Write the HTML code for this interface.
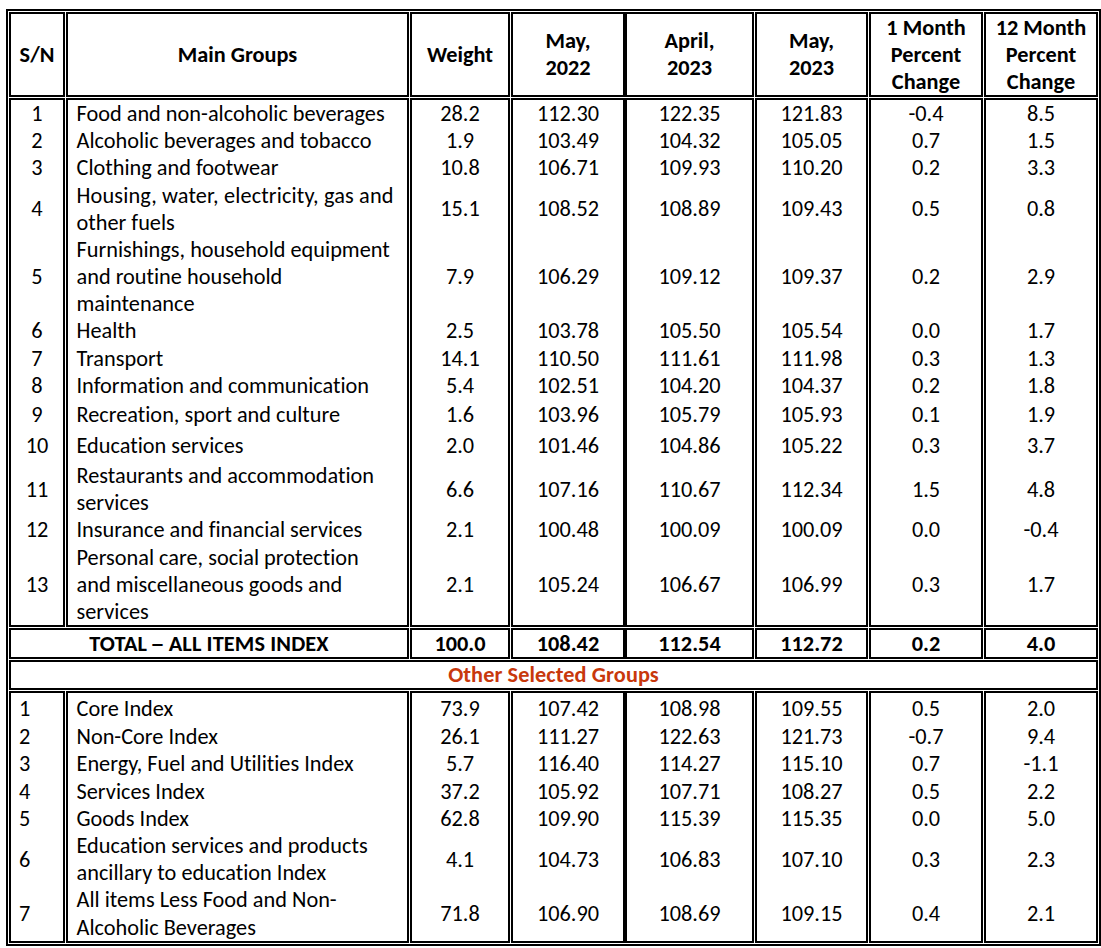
<!DOCTYPE html>
<html><head><meta charset="utf-8"><title>CPI Table</title><style>
html,body{margin:0;padding:0;background:#fff;}
body{font-variant-ligatures:none;font-feature-settings:"liga" 0,"clig" 0;width:1101px;height:948px;position:relative;overflow:hidden;font-family:"Carlito","Liberation Sans",sans-serif;font-size:22.30px;line-height:27px;color:#000;}
.l{position:absolute;background:#000;}
.t{position:absolute;white-space:nowrap;height:27px;}
.c{text-align:center;}
.b{font-weight:bold;}
.d{display:inline-block;transform:scaleX(1.3);}
</style></head><body>

<div class="l" style="left:6px;top:9px;width:1095px;height:2px"></div>
<div class="l" style="left:6px;top:944px;width:1095px;height:2px"></div>
<div class="l" style="left:6px;top:9px;width:2px;height:937px"></div>
<div class="l" style="left:1099px;top:9px;width:2px;height:937px"></div>
<div class="l" style="left:9px;top:12px;width:56px;height:2px"></div>
<div class="l" style="left:9px;top:95px;width:56px;height:2px"></div>
<div class="l" style="left:9px;top:12px;width:2px;height:85px"></div>
<div class="l" style="left:63px;top:12px;width:2px;height:85px"></div>
<div class="l" style="left:66px;top:12px;width:343px;height:2px"></div>
<div class="l" style="left:66px;top:95px;width:343px;height:2px"></div>
<div class="l" style="left:66px;top:12px;width:2px;height:85px"></div>
<div class="l" style="left:407px;top:12px;width:2px;height:85px"></div>
<div class="l" style="left:410px;top:12px;width:100px;height:2px"></div>
<div class="l" style="left:410px;top:95px;width:100px;height:2px"></div>
<div class="l" style="left:410px;top:12px;width:2px;height:85px"></div>
<div class="l" style="left:508px;top:12px;width:2px;height:85px"></div>
<div class="l" style="left:511px;top:12px;width:114px;height:2px"></div>
<div class="l" style="left:511px;top:95px;width:114px;height:2px"></div>
<div class="l" style="left:511px;top:12px;width:2px;height:85px"></div>
<div class="l" style="left:623px;top:12px;width:2px;height:85px"></div>
<div class="l" style="left:625px;top:12px;width:129px;height:2px"></div>
<div class="l" style="left:625px;top:95px;width:129px;height:2px"></div>
<div class="l" style="left:625px;top:12px;width:2px;height:85px"></div>
<div class="l" style="left:752px;top:12px;width:2px;height:85px"></div>
<div class="l" style="left:755px;top:12px;width:113px;height:2px"></div>
<div class="l" style="left:755px;top:95px;width:113px;height:2px"></div>
<div class="l" style="left:755px;top:12px;width:2px;height:85px"></div>
<div class="l" style="left:866px;top:12px;width:2px;height:85px"></div>
<div class="l" style="left:869px;top:12px;width:114px;height:2px"></div>
<div class="l" style="left:869px;top:95px;width:114px;height:2px"></div>
<div class="l" style="left:869px;top:12px;width:2px;height:85px"></div>
<div class="l" style="left:981px;top:12px;width:2px;height:85px"></div>
<div class="l" style="left:984px;top:12px;width:114px;height:2px"></div>
<div class="l" style="left:984px;top:95px;width:114px;height:2px"></div>
<div class="l" style="left:984px;top:12px;width:2px;height:85px"></div>
<div class="l" style="left:1096px;top:12px;width:2px;height:85px"></div>
<div class="l" style="left:9px;top:98px;width:56px;height:2px"></div>
<div class="l" style="left:9px;top:625px;width:56px;height:2px"></div>
<div class="l" style="left:9px;top:98px;width:2px;height:529px"></div>
<div class="l" style="left:63px;top:98px;width:2px;height:529px"></div>
<div class="l" style="left:66px;top:98px;width:343px;height:2px"></div>
<div class="l" style="left:66px;top:625px;width:343px;height:2px"></div>
<div class="l" style="left:66px;top:98px;width:2px;height:529px"></div>
<div class="l" style="left:407px;top:98px;width:2px;height:529px"></div>
<div class="l" style="left:410px;top:98px;width:100px;height:2px"></div>
<div class="l" style="left:410px;top:625px;width:100px;height:2px"></div>
<div class="l" style="left:410px;top:98px;width:2px;height:529px"></div>
<div class="l" style="left:508px;top:98px;width:2px;height:529px"></div>
<div class="l" style="left:511px;top:98px;width:114px;height:2px"></div>
<div class="l" style="left:511px;top:625px;width:114px;height:2px"></div>
<div class="l" style="left:511px;top:98px;width:2px;height:529px"></div>
<div class="l" style="left:623px;top:98px;width:2px;height:529px"></div>
<div class="l" style="left:625px;top:98px;width:129px;height:2px"></div>
<div class="l" style="left:625px;top:625px;width:129px;height:2px"></div>
<div class="l" style="left:625px;top:98px;width:2px;height:529px"></div>
<div class="l" style="left:752px;top:98px;width:2px;height:529px"></div>
<div class="l" style="left:755px;top:98px;width:113px;height:2px"></div>
<div class="l" style="left:755px;top:625px;width:113px;height:2px"></div>
<div class="l" style="left:755px;top:98px;width:2px;height:529px"></div>
<div class="l" style="left:866px;top:98px;width:2px;height:529px"></div>
<div class="l" style="left:869px;top:98px;width:114px;height:2px"></div>
<div class="l" style="left:869px;top:625px;width:114px;height:2px"></div>
<div class="l" style="left:869px;top:98px;width:2px;height:529px"></div>
<div class="l" style="left:981px;top:98px;width:2px;height:529px"></div>
<div class="l" style="left:984px;top:98px;width:114px;height:2px"></div>
<div class="l" style="left:984px;top:625px;width:114px;height:2px"></div>
<div class="l" style="left:984px;top:98px;width:2px;height:529px"></div>
<div class="l" style="left:1096px;top:98px;width:2px;height:529px"></div>
<div class="l" style="left:9px;top:628px;width:400px;height:2px"></div>
<div class="l" style="left:9px;top:657px;width:400px;height:2px"></div>
<div class="l" style="left:9px;top:628px;width:2px;height:31px"></div>
<div class="l" style="left:407px;top:628px;width:2px;height:31px"></div>
<div class="l" style="left:410px;top:628px;width:100px;height:2px"></div>
<div class="l" style="left:410px;top:657px;width:100px;height:2px"></div>
<div class="l" style="left:410px;top:628px;width:2px;height:31px"></div>
<div class="l" style="left:508px;top:628px;width:2px;height:31px"></div>
<div class="l" style="left:511px;top:628px;width:114px;height:2px"></div>
<div class="l" style="left:511px;top:657px;width:114px;height:2px"></div>
<div class="l" style="left:511px;top:628px;width:2px;height:31px"></div>
<div class="l" style="left:623px;top:628px;width:2px;height:31px"></div>
<div class="l" style="left:625px;top:628px;width:129px;height:2px"></div>
<div class="l" style="left:625px;top:657px;width:129px;height:2px"></div>
<div class="l" style="left:625px;top:628px;width:2px;height:31px"></div>
<div class="l" style="left:752px;top:628px;width:2px;height:31px"></div>
<div class="l" style="left:755px;top:628px;width:113px;height:2px"></div>
<div class="l" style="left:755px;top:657px;width:113px;height:2px"></div>
<div class="l" style="left:755px;top:628px;width:2px;height:31px"></div>
<div class="l" style="left:866px;top:628px;width:2px;height:31px"></div>
<div class="l" style="left:869px;top:628px;width:114px;height:2px"></div>
<div class="l" style="left:869px;top:657px;width:114px;height:2px"></div>
<div class="l" style="left:869px;top:628px;width:2px;height:31px"></div>
<div class="l" style="left:981px;top:628px;width:2px;height:31px"></div>
<div class="l" style="left:984px;top:628px;width:114px;height:2px"></div>
<div class="l" style="left:984px;top:657px;width:114px;height:2px"></div>
<div class="l" style="left:984px;top:628px;width:2px;height:31px"></div>
<div class="l" style="left:1096px;top:628px;width:2px;height:31px"></div>
<div class="l" style="left:9px;top:660px;width:1089px;height:2px"></div>
<div class="l" style="left:9px;top:688px;width:1089px;height:2px"></div>
<div class="l" style="left:9px;top:660px;width:2px;height:30px"></div>
<div class="l" style="left:1096px;top:660px;width:2px;height:30px"></div>
<div class="l" style="left:9px;top:691px;width:56px;height:2px"></div>
<div class="l" style="left:9px;top:941px;width:56px;height:2px"></div>
<div class="l" style="left:9px;top:691px;width:2px;height:252px"></div>
<div class="l" style="left:63px;top:691px;width:2px;height:252px"></div>
<div class="l" style="left:66px;top:691px;width:343px;height:2px"></div>
<div class="l" style="left:66px;top:941px;width:343px;height:2px"></div>
<div class="l" style="left:66px;top:691px;width:2px;height:252px"></div>
<div class="l" style="left:407px;top:691px;width:2px;height:252px"></div>
<div class="l" style="left:410px;top:691px;width:100px;height:2px"></div>
<div class="l" style="left:410px;top:941px;width:100px;height:2px"></div>
<div class="l" style="left:410px;top:691px;width:2px;height:252px"></div>
<div class="l" style="left:508px;top:691px;width:2px;height:252px"></div>
<div class="l" style="left:511px;top:691px;width:114px;height:2px"></div>
<div class="l" style="left:511px;top:941px;width:114px;height:2px"></div>
<div class="l" style="left:511px;top:691px;width:2px;height:252px"></div>
<div class="l" style="left:623px;top:691px;width:2px;height:252px"></div>
<div class="l" style="left:625px;top:691px;width:129px;height:2px"></div>
<div class="l" style="left:625px;top:941px;width:129px;height:2px"></div>
<div class="l" style="left:625px;top:691px;width:2px;height:252px"></div>
<div class="l" style="left:752px;top:691px;width:2px;height:252px"></div>
<div class="l" style="left:755px;top:691px;width:113px;height:2px"></div>
<div class="l" style="left:755px;top:941px;width:113px;height:2px"></div>
<div class="l" style="left:755px;top:691px;width:2px;height:252px"></div>
<div class="l" style="left:866px;top:691px;width:2px;height:252px"></div>
<div class="l" style="left:869px;top:691px;width:114px;height:2px"></div>
<div class="l" style="left:869px;top:941px;width:114px;height:2px"></div>
<div class="l" style="left:869px;top:691px;width:2px;height:252px"></div>
<div class="l" style="left:981px;top:691px;width:2px;height:252px"></div>
<div class="l" style="left:984px;top:691px;width:114px;height:2px"></div>
<div class="l" style="left:984px;top:941px;width:114px;height:2px"></div>
<div class="l" style="left:984px;top:691px;width:2px;height:252px"></div>
<div class="l" style="left:1096px;top:691px;width:2px;height:252px"></div>
<div class="t c b" style="left:11px;top:41px;width:52px"><span>S/N</span></div>
<div class="t c b" style="left:68px;top:41px;width:339px"><span>Main Groups</span></div>
<div class="t c b" style="left:412px;top:41px;width:96px"><span>Weight</span></div>
<div class="t c b" style="left:513px;top:27px;width:110px"><span>May,</span></div>
<div class="t c b" style="left:513px;top:54px;width:110px"><span>2022</span></div>
<div class="t c b" style="left:627px;top:27px;width:125px"><span>April,</span></div>
<div class="t c b" style="left:627px;top:54px;width:125px"><span>2023</span></div>
<div class="t c b" style="left:757px;top:27px;width:109px"><span>May,</span></div>
<div class="t c b" style="left:757px;top:54px;width:109px"><span>2023</span></div>
<div class="t c b" style="left:871px;top:14px;width:110px"><span>1 Month</span></div>
<div class="t c b" style="left:871px;top:41px;width:110px"><span>Percent</span></div>
<div class="t c b" style="left:871px;top:68px;width:110px"><span>Change</span></div>
<div class="t c b" style="left:986px;top:14px;width:110px"><span>12 Month</span></div>
<div class="t c b" style="left:986px;top:41px;width:110px"><span>Percent</span></div>
<div class="t c b" style="left:986px;top:68px;width:110px"><span>Change</span></div>
<div class="t c" style="left:11px;top:100px;width:52px"><span>1</span></div>
<div class="t" style="left:76.5px;top:100px;width:322.0px"><span>Food and non-alcoholic beverages</span></div>
<div class="t c" style="left:412px;top:100px;width:96px"><span>28.2</span></div>
<div class="t c" style="left:513px;top:100px;width:110px"><span>112.30</span></div>
<div class="t c" style="left:627px;top:100px;width:125px"><span>122.35</span></div>
<div class="t c" style="left:757px;top:100px;width:109px"><span>121.83</span></div>
<div class="t c" style="left:871px;top:100px;width:110px"><span>-0.4</span></div>
<div class="t c" style="left:986px;top:100px;width:110px"><span>8.5</span></div>
<div class="t c" style="left:11px;top:127px;width:52px"><span>2</span></div>
<div class="t" style="left:76.5px;top:127px;width:322.0px"><span>Alcoholic beverages and tobacco</span></div>
<div class="t c" style="left:412px;top:127px;width:96px"><span>1.9</span></div>
<div class="t c" style="left:513px;top:127px;width:110px"><span>103.49</span></div>
<div class="t c" style="left:627px;top:127px;width:125px"><span>104.32</span></div>
<div class="t c" style="left:757px;top:127px;width:109px"><span>105.05</span></div>
<div class="t c" style="left:871px;top:127px;width:110px"><span>0.7</span></div>
<div class="t c" style="left:986px;top:127px;width:110px"><span>1.5</span></div>
<div class="t c" style="left:11px;top:154px;width:52px"><span>3</span></div>
<div class="t" style="left:76.5px;top:154px;width:322.0px"><span>Clothing and footwear</span></div>
<div class="t c" style="left:412px;top:154px;width:96px"><span>10.8</span></div>
<div class="t c" style="left:513px;top:154px;width:110px"><span>106.71</span></div>
<div class="t c" style="left:627px;top:154px;width:125px"><span>109.93</span></div>
<div class="t c" style="left:757px;top:154px;width:109px"><span>110.20</span></div>
<div class="t c" style="left:871px;top:154px;width:110px"><span>0.2</span></div>
<div class="t c" style="left:986px;top:154px;width:110px"><span>3.3</span></div>
<div class="t c" style="left:11px;top:195px;width:52px"><span>4</span></div>
<div class="t" style="left:76.5px;top:182px;width:322.0px;letter-spacing:0.14px"><span>Housing, water, electricity, gas and</span></div>
<div class="t" style="left:76.5px;top:209px;width:322.0px"><span>other fuels</span></div>
<div class="t c" style="left:412px;top:195px;width:96px"><span>15.1</span></div>
<div class="t c" style="left:513px;top:195px;width:110px"><span>108.52</span></div>
<div class="t c" style="left:627px;top:195px;width:125px"><span>108.89</span></div>
<div class="t c" style="left:757px;top:195px;width:109px"><span>109.43</span></div>
<div class="t c" style="left:871px;top:195px;width:110px"><span>0.5</span></div>
<div class="t c" style="left:986px;top:195px;width:110px"><span>0.8</span></div>
<div class="t c" style="left:11px;top:263px;width:52px"><span>5</span></div>
<div class="t" style="left:76.5px;top:236px;width:322.0px"><span>Furnishings, household equipment</span></div>
<div class="t" style="left:76.5px;top:263px;width:322.0px"><span>and routine household</span></div>
<div class="t" style="left:76.5px;top:290px;width:322.0px"><span>maintenance</span></div>
<div class="t c" style="left:412px;top:263px;width:96px"><span>7.9</span></div>
<div class="t c" style="left:513px;top:263px;width:110px"><span>106.29</span></div>
<div class="t c" style="left:627px;top:263px;width:125px"><span>109.12</span></div>
<div class="t c" style="left:757px;top:263px;width:109px"><span>109.37</span></div>
<div class="t c" style="left:871px;top:263px;width:110px"><span>0.2</span></div>
<div class="t c" style="left:986px;top:263px;width:110px"><span>2.9</span></div>
<div class="t c" style="left:11px;top:317px;width:52px"><span>6</span></div>
<div class="t" style="left:76.5px;top:317px;width:322.0px"><span>Health</span></div>
<div class="t c" style="left:412px;top:317px;width:96px"><span>2.5</span></div>
<div class="t c" style="left:513px;top:317px;width:110px"><span>103.78</span></div>
<div class="t c" style="left:627px;top:317px;width:125px"><span>105.50</span></div>
<div class="t c" style="left:757px;top:317px;width:109px"><span>105.54</span></div>
<div class="t c" style="left:871px;top:317px;width:110px"><span>0.0</span></div>
<div class="t c" style="left:986px;top:317px;width:110px"><span>1.7</span></div>
<div class="t c" style="left:11px;top:345px;width:52px"><span>7</span></div>
<div class="t" style="left:76.5px;top:345px;width:322.0px"><span>Transport</span></div>
<div class="t c" style="left:412px;top:345px;width:96px"><span>14.1</span></div>
<div class="t c" style="left:513px;top:345px;width:110px"><span>110.50</span></div>
<div class="t c" style="left:627px;top:345px;width:125px"><span>111.61</span></div>
<div class="t c" style="left:757px;top:345px;width:109px"><span>111.98</span></div>
<div class="t c" style="left:871px;top:345px;width:110px"><span>0.3</span></div>
<div class="t c" style="left:986px;top:345px;width:110px"><span>1.3</span></div>
<div class="t c" style="left:11px;top:372px;width:52px"><span>8</span></div>
<div class="t" style="left:76.5px;top:372px;width:322.0px"><span>Information and communication</span></div>
<div class="t c" style="left:412px;top:372px;width:96px"><span>5.4</span></div>
<div class="t c" style="left:513px;top:372px;width:110px"><span>102.51</span></div>
<div class="t c" style="left:627px;top:372px;width:125px"><span>104.20</span></div>
<div class="t c" style="left:757px;top:372px;width:109px"><span>104.37</span></div>
<div class="t c" style="left:871px;top:372px;width:110px"><span>0.2</span></div>
<div class="t c" style="left:986px;top:372px;width:110px"><span>1.8</span></div>
<div class="t c" style="left:11px;top:401px;width:52px"><span>9</span></div>
<div class="t" style="left:76.5px;top:401px;width:322.0px"><span>Recreation, sport and culture</span></div>
<div class="t c" style="left:412px;top:401px;width:96px"><span>1.6</span></div>
<div class="t c" style="left:513px;top:401px;width:110px"><span>103.96</span></div>
<div class="t c" style="left:627px;top:401px;width:125px"><span>105.79</span></div>
<div class="t c" style="left:757px;top:401px;width:109px"><span>105.93</span></div>
<div class="t c" style="left:871px;top:401px;width:110px"><span>0.1</span></div>
<div class="t c" style="left:986px;top:401px;width:110px"><span>1.9</span></div>
<div class="t c" style="left:11px;top:432px;width:52px"><span>10</span></div>
<div class="t" style="left:76.5px;top:432px;width:322.0px"><span>Education services</span></div>
<div class="t c" style="left:412px;top:432px;width:96px"><span>2.0</span></div>
<div class="t c" style="left:513px;top:432px;width:110px"><span>101.46</span></div>
<div class="t c" style="left:627px;top:432px;width:125px"><span>104.86</span></div>
<div class="t c" style="left:757px;top:432px;width:109px"><span>105.22</span></div>
<div class="t c" style="left:871px;top:432px;width:110px"><span>0.3</span></div>
<div class="t c" style="left:986px;top:432px;width:110px"><span>3.7</span></div>
<div class="t c" style="left:11px;top:476px;width:52px"><span>11</span></div>
<div class="t" style="left:76.5px;top:462px;width:322.0px"><span>Restaurants and accommodation</span></div>
<div class="t" style="left:76.5px;top:489px;width:322.0px"><span>services</span></div>
<div class="t c" style="left:412px;top:476px;width:96px"><span>6.6</span></div>
<div class="t c" style="left:513px;top:476px;width:110px"><span>107.16</span></div>
<div class="t c" style="left:627px;top:476px;width:125px"><span>110.67</span></div>
<div class="t c" style="left:757px;top:476px;width:109px"><span>112.34</span></div>
<div class="t c" style="left:871px;top:476px;width:110px"><span>1.5</span></div>
<div class="t c" style="left:986px;top:476px;width:110px"><span>4.8</span></div>
<div class="t c" style="left:11px;top:516px;width:52px"><span>12</span></div>
<div class="t" style="left:76.5px;top:516px;width:322.0px"><span>Insurance and financial services</span></div>
<div class="t c" style="left:412px;top:516px;width:96px"><span>2.1</span></div>
<div class="t c" style="left:513px;top:516px;width:110px"><span>100.48</span></div>
<div class="t c" style="left:627px;top:516px;width:125px"><span>100.09</span></div>
<div class="t c" style="left:757px;top:516px;width:109px"><span>100.09</span></div>
<div class="t c" style="left:871px;top:516px;width:110px"><span>0.0</span></div>
<div class="t c" style="left:986px;top:516px;width:110px"><span>-0.4</span></div>
<div class="t c" style="left:11px;top:571px;width:52px"><span>13</span></div>
<div class="t" style="left:76.5px;top:544px;width:322.0px"><span>Personal care, social protection</span></div>
<div class="t" style="left:76.5px;top:571px;width:322.0px"><span>and miscellaneous goods and</span></div>
<div class="t" style="left:76.5px;top:598px;width:322.0px"><span>services</span></div>
<div class="t c" style="left:412px;top:571px;width:96px"><span>2.1</span></div>
<div class="t c" style="left:513px;top:571px;width:110px"><span>105.24</span></div>
<div class="t c" style="left:627px;top:571px;width:125px"><span>106.67</span></div>
<div class="t c" style="left:757px;top:571px;width:109px"><span>106.99</span></div>
<div class="t c" style="left:871px;top:571px;width:110px"><span>0.3</span></div>
<div class="t c" style="left:986px;top:571px;width:110px"><span>1.7</span></div>
<div class="t c b" style="left:11px;top:630px;width:396px;letter-spacing:0.12px"><span>TOTAL <span class="d">–</span> ALL ITEMS INDEX</span></div>
<div class="t c b" style="left:412px;top:630px;width:96px"><span>100.0</span></div>
<div class="t c b" style="left:513px;top:630px;width:110px"><span>108.42</span></div>
<div class="t c b" style="left:627px;top:630px;width:125px"><span>112.54</span></div>
<div class="t c b" style="left:757px;top:630px;width:109px"><span>112.72</span></div>
<div class="t c b" style="left:871px;top:630px;width:110px"><span>0.2</span></div>
<div class="t c b" style="left:986px;top:630px;width:110px"><span>4.0</span></div>
<div class="t c b" style="left:11px;top:661px;width:1085px;color:#C8380C;letter-spacing:0.08px"><span>Other Selected Groups</span></div>
<div class="t" style="left:19px;top:695px;width:36px"><span>1</span></div>
<div class="t" style="left:76.5px;top:695px;width:322.0px"><span>Core Index</span></div>
<div class="t c" style="left:412px;top:695px;width:96px"><span>73.9</span></div>
<div class="t c" style="left:513px;top:695px;width:110px"><span>107.42</span></div>
<div class="t c" style="left:627px;top:695px;width:125px"><span>108.98</span></div>
<div class="t c" style="left:757px;top:695px;width:109px"><span>109.55</span></div>
<div class="t c" style="left:871px;top:695px;width:110px"><span>0.5</span></div>
<div class="t c" style="left:986px;top:695px;width:110px"><span>2.0</span></div>
<div class="t" style="left:19px;top:723px;width:36px"><span>2</span></div>
<div class="t" style="left:76.5px;top:723px;width:322.0px"><span>Non-Core Index</span></div>
<div class="t c" style="left:412px;top:723px;width:96px"><span>26.1</span></div>
<div class="t c" style="left:513px;top:723px;width:110px"><span>111.27</span></div>
<div class="t c" style="left:627px;top:723px;width:125px"><span>122.63</span></div>
<div class="t c" style="left:757px;top:723px;width:109px"><span>121.73</span></div>
<div class="t c" style="left:871px;top:723px;width:110px"><span>-0.7</span></div>
<div class="t c" style="left:986px;top:723px;width:110px"><span>9.4</span></div>
<div class="t" style="left:19px;top:750px;width:36px"><span>3</span></div>
<div class="t" style="left:76.5px;top:750px;width:322.0px"><span>Energy, Fuel and Utilities Index</span></div>
<div class="t c" style="left:412px;top:750px;width:96px"><span>5.7</span></div>
<div class="t c" style="left:513px;top:750px;width:110px"><span>116.40</span></div>
<div class="t c" style="left:627px;top:750px;width:125px"><span>114.27</span></div>
<div class="t c" style="left:757px;top:750px;width:109px"><span>115.10</span></div>
<div class="t c" style="left:871px;top:750px;width:110px"><span>0.7</span></div>
<div class="t c" style="left:986px;top:750px;width:110px"><span>-1.1</span></div>
<div class="t" style="left:19px;top:778px;width:36px"><span>4</span></div>
<div class="t" style="left:76.5px;top:778px;width:322.0px"><span>Services Index</span></div>
<div class="t c" style="left:412px;top:778px;width:96px"><span>37.2</span></div>
<div class="t c" style="left:513px;top:778px;width:110px"><span>105.92</span></div>
<div class="t c" style="left:627px;top:778px;width:125px"><span>107.71</span></div>
<div class="t c" style="left:757px;top:778px;width:109px"><span>108.27</span></div>
<div class="t c" style="left:871px;top:778px;width:110px"><span>0.5</span></div>
<div class="t c" style="left:986px;top:778px;width:110px"><span>2.2</span></div>
<div class="t" style="left:19px;top:805px;width:36px"><span>5</span></div>
<div class="t" style="left:76.5px;top:805px;width:322.0px"><span>Goods Index</span></div>
<div class="t c" style="left:412px;top:805px;width:96px"><span>62.8</span></div>
<div class="t c" style="left:513px;top:805px;width:110px"><span>109.90</span></div>
<div class="t c" style="left:627px;top:805px;width:125px"><span>115.39</span></div>
<div class="t c" style="left:757px;top:805px;width:109px"><span>115.35</span></div>
<div class="t c" style="left:871px;top:805px;width:110px"><span>0.0</span></div>
<div class="t c" style="left:986px;top:805px;width:110px"><span>5.0</span></div>
<div class="t" style="left:19px;top:846px;width:36px"><span>6</span></div>
<div class="t" style="left:76.5px;top:832px;width:322.0px"><span>Education services and products</span></div>
<div class="t" style="left:76.5px;top:859px;width:322.0px"><span>ancillary to education Index</span></div>
<div class="t c" style="left:412px;top:846px;width:96px"><span>4.1</span></div>
<div class="t c" style="left:513px;top:846px;width:110px"><span>104.73</span></div>
<div class="t c" style="left:627px;top:846px;width:125px"><span>106.83</span></div>
<div class="t c" style="left:757px;top:846px;width:109px"><span>107.10</span></div>
<div class="t c" style="left:871px;top:846px;width:110px"><span>0.3</span></div>
<div class="t c" style="left:986px;top:846px;width:110px"><span>2.3</span></div>
<div class="t" style="left:19px;top:900px;width:36px"><span>7</span></div>
<div class="t" style="left:76.5px;top:886px;width:322.0px"><span>All items Less Food and Non-</span></div>
<div class="t" style="left:76.5px;top:914px;width:322.0px"><span>Alcoholic Beverages</span></div>
<div class="t c" style="left:412px;top:900px;width:96px"><span>71.8</span></div>
<div class="t c" style="left:513px;top:900px;width:110px"><span>106.90</span></div>
<div class="t c" style="left:627px;top:900px;width:125px"><span>108.69</span></div>
<div class="t c" style="left:757px;top:900px;width:109px"><span>109.15</span></div>
<div class="t c" style="left:871px;top:900px;width:110px"><span>0.4</span></div>
<div class="t c" style="left:986px;top:900px;width:110px"><span>2.1</span></div>
<script>
(function(){
var W=[34.81, 119.55, 66.19, 45.06, 45.22, 50.11, 45.22, 45.06, 45.22, 79.28, 70.39, 68.3, 90.58, 70.39, 68.3, 11.31, 308.13, 39.53, 62.14, 62.14, 62.14, 35.06, 28.23, 11.31, 295, 28.23, 62.14, 62.14, 62.14, 28.23, 28.23, 11.31, 202.08, 39.53, 62.14, 62.14, 62.14, 28.23, 28.23, 11.31, 317.11, 98.31, 39.53, 62.14, 62.14, 62.14, 28.23, 28.23, 11.31, 313.23, 205.78, 118.08, 28.23, 62.14, 62.14, 62.14, 28.23, 28.23, 11.31, 59.97, 28.23, 62.14, 62.14, 62.14, 28.23, 28.23, 11.31, 86.64, 39.53, 62.14, 62.14, 62.14, 28.23, 28.23, 11.31, 292.56, 28.23, 62.14, 62.14, 62.14, 28.23, 28.23, 11.31, 263.59, 28.23, 62.14, 62.14, 62.14, 28.23, 28.23, 22.61, 167.03, 28.23, 62.14, 62.14, 62.14, 28.23, 28.23, 22.61, 297.5, 72.23, 28.23, 62.14, 62.14, 62.14, 28.23, 28.23, 22.61, 285.84, 28.23, 62.14, 62.14, 62.14, 28.23, 35.06, 22.61, 282.25, 265.73, 72.23, 28.23, 62.14, 62.14, 62.14, 28.23, 28.23, 239.41, 51.17, 62.47, 62.47, 62.47, 28.56, 28.56, 210.7, 11.31, 96.73, 39.53, 62.14, 62.14, 62.14, 28.23, 28.23, 11.31, 141.42, 39.53, 62.14, 62.14, 62.14, 35.06, 28.23, 11.31, 277.16, 28.23, 62.14, 62.14, 62.14, 28.23, 35.06, 11.31, 128.27, 39.53, 62.14, 62.14, 62.14, 28.23, 28.23, 11.31, 112.53, 39.53, 62.14, 62.14, 62.14, 28.23, 28.23, 11.31, 291.16, 249.72, 28.23, 62.14, 62.14, 62.14, 28.23, 28.23, 11.31, 260.2, 179.39, 39.53, 62.14, 62.14, 62.14, 28.23, 28.23];
if(!W)return;
function fix(){
 var els=document.querySelectorAll('.t>span');
 var cv=document.createElement('canvas').getContext('2d');
 for(var i=0;i<els.length&&i<W.length;i++){
  var e=els[i],w=e.getBoundingClientRect().width;
  if(!w||Math.abs(w-W[i])<1)continue;
  var p=e.parentNode,cs=getComputedStyle(p);
  cv.font=cs.fontWeight+' '+cs.fontSize+' '+cs.fontFamily;
  var m=cv.measureText('H'),a=m.actualBoundingBoxAscent||0;
  var exp=(cs.fontWeight>=600?1328:1314)/2048*parseFloat(cs.fontSize);
  var sy=(a>0)?Math.min(1.1,Math.max(0.8,exp/a)):1;
  e.style.display='inline-block';
  e.style.transformOrigin=(p.className.indexOf(' c')>=0?'50%':'0')+' 21px';
  e.style.transform='scale('+(W[i]/w)+','+sy+')';
 }
}
fix();
})();
</script>
</body></html>
